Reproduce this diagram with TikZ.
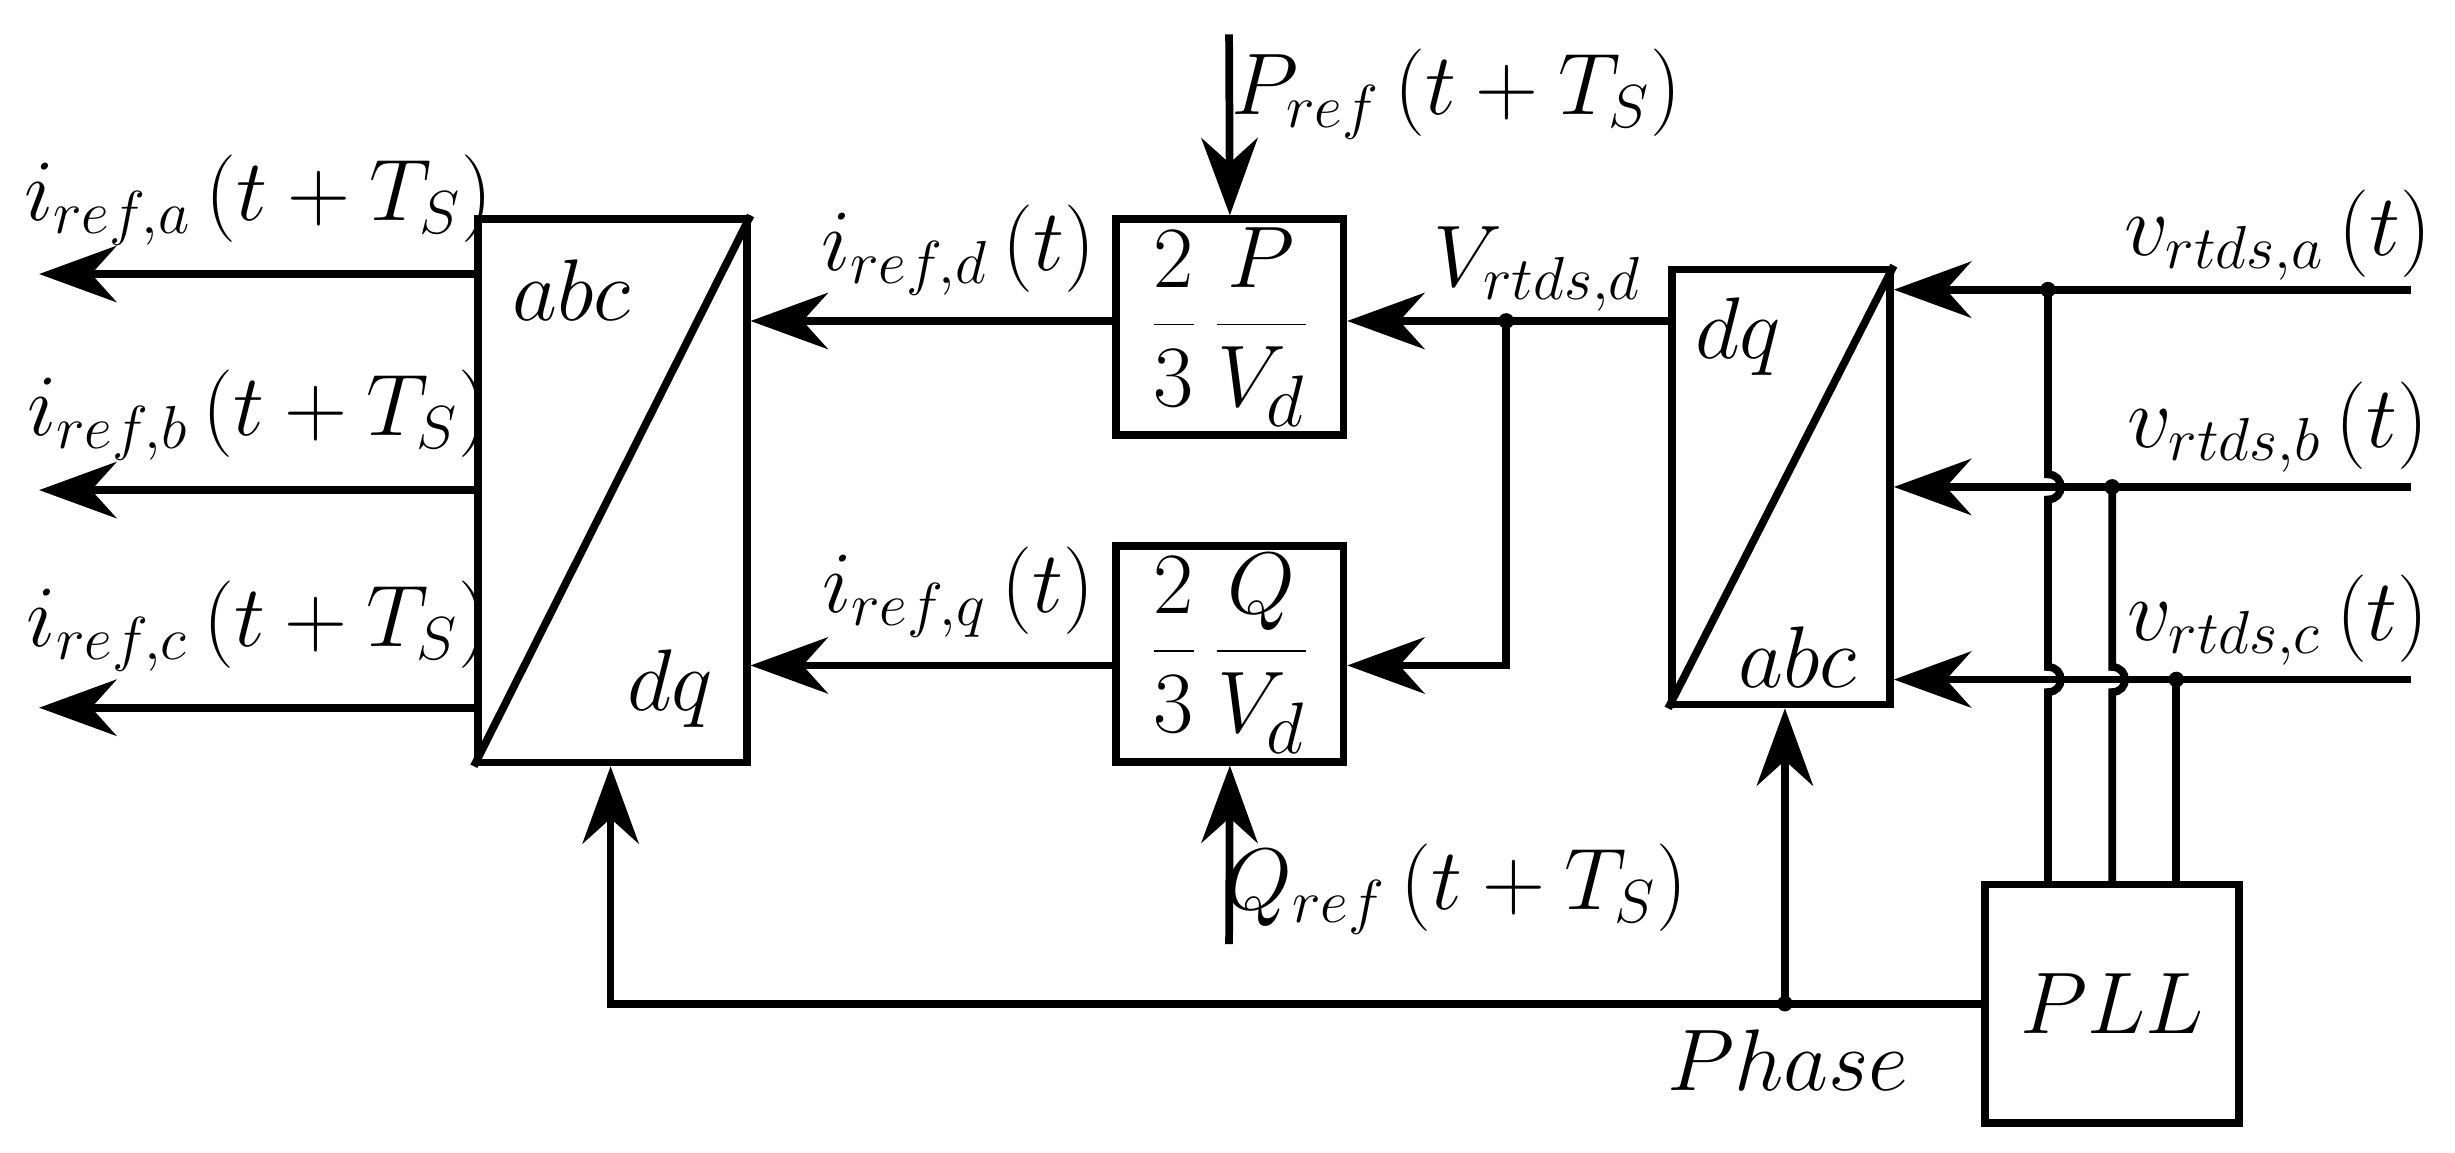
\documentclass[tikz,border=0pt]{standalone}
\usetikzlibrary{arrows.meta,calc}
\begin{document}
\begin{tikzpicture}[x=0.01566cm,y=-0.01566cm,line width=2.2pt,
  arr/.style={-{Stealth[length=22pt,width=16pt]}},
  box/.style={draw,inner sep=0pt},
  lab/.style={font=\fontsize{24}{28}\selectfont},
  big/.style={font=\fontsize{40}{44}\selectfont}]
\useasboundingbox (0,0) rectangle (1568,736);
\node[box,minimum width=2.69cm,minimum height=5.43cm] (L) at (391,313.5) {};
\draw (L.south west) -- (L.north east);
\node[big] (La) at (365,185) {$abc$};
\node[big] (Ld) at (428,440) {$dq$};
\node[box,minimum width=2.27cm,minimum height=2.16cm,font=\fontsize{28}{32}\selectfont] (P) at (785.5,209) {$\displaystyle\frac{2}{3}\,\frac{P}{V_d}$};
\node[box,minimum width=2.27cm,minimum height=2.16cm,font=\fontsize{28}{32}\selectfont] (Q) at (785.5,417.5) {$\displaystyle\frac{2}{3}\,\frac{Q}{V_d}$};
\node[box,minimum width=2.18cm,minimum height=4.35cm] (R) at (1137.5,311) {};
\draw (R.south west) -- (R.north east);
\node[big] (Rd) at (1110,215) {$dq$};
\node[big] (Ra) at (1148,420) {$abc$};
\node[box,minimum width=2.54cm,minimum height=2.38cm,font=\fontsize{44}{48}\selectfont] (PLL) at (1349,641) {$PLL$};
% outputs
\coordinate (oa) at (25,175); \coordinate (ob) at (25,313); \coordinate (oc) at (25,452);
\draw[arr] (L.west |- oa) -- (oa);
\draw[arr] (L.west |- ob) -- (ob);
\draw[arr] (L.west |- oc) -- (oc);
\node[lab] (la) at (165,128) {$i_{ref,a}\,(t+T_S)$};
\node[lab] (lb) at (165,265) {$i_{ref,b}\,(t+T_S)$};
\node[lab] (lc) at (165,400) {$i_{ref,c}\,(t+T_S)$};
% id iq
\draw[arr] (P.west |- 0,205) -- (L.east |- 0,205);
\draw[arr] (Q.west |- 0,425) -- (L.east |- 0,425);
\node[lab] (lid) at (612,160) {$i_{ref,d}\,(t)$};
\node[lab] (liq) at (612,378) {$i_{ref,q}\,(t)$};
% Pref Qref
\coordinate (pr) at (785,22); \coordinate (qr) at (785,603);
\draw[arr] (pr) -- (P.north);
\draw[arr] (qr) -- (Q.south);
\node[lab] (lpr) at (930,60) {$P_{ref}\,(t+T_S)$};
\node[lab] (lqr) at (930,568) {$Q_{ref}\,(t+T_S)$};
% Vd
\coordinate (j1) at (962,205);
\draw[arr] (R.west |- j1) -- (P.east |- j1);
\draw[arr] (j1) -- (962,425) -- (Q.east |- 0,425);
\fill (j1) circle (5);
\node[lab] (lv) at (982,172) {$V_{rtds,d}$};
% inputs
\coordinate (ia) at (1540,185); \coordinate (ib) at (1540,311); \coordinate (ic) at (1540,434);
\draw[arr] (ia) -- (R.east |- ia);
\draw[arr] (ib) -- (R.east |- ib);
\draw[arr] (ic) -- (R.east |- ic);
\node[lab] (lva) at (1455,150) {$v_{rtds,a}\,(t)$};
\node[lab] (lvb) at (1455,273) {$v_{rtds,b}\,(t)$};
\node[lab] (lvc) at (1455,396) {$v_{rtds,c}\,(t)$};
% PLL wires
\draw (PLL.north -| 1308,0) -- (1308,442) .. controls (1319,442) and (1319,426) .. (1308,426) -- (1308,319) .. controls (1319,319) and (1319,303) .. (1308,303) -- (1308,185);
\draw (PLL.north -| 1349,0) -- (1349,442) .. controls (1360,442) and (1360,426) .. (1349,426) -- (1349,311);
\draw (PLL.north -| 1390,0) -- (1390,434);
\fill (1308,185) circle (5); \fill (1349,311) circle (5); \fill (1390,434) circle (5);
% phase
\coordinate (j2) at (1140,641);
\draw[arr] (PLL.west) -- (390,641) -- (L.south -| 390,0);
\draw[arr] (j2) -- (R.south -| j2);
\fill (j2) circle (5);
\node[lab] (lph) at (1142,677) {$Phase$};
\end{tikzpicture}
\end{document}
